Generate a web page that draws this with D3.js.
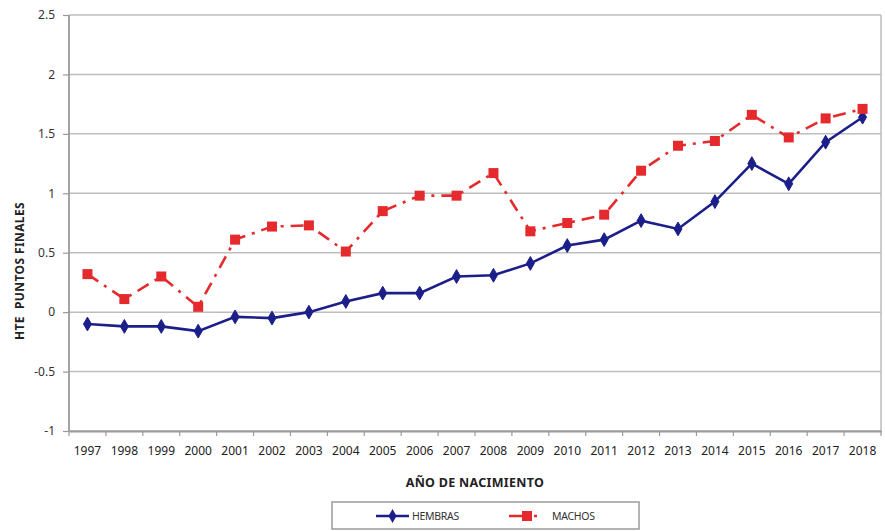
<!DOCTYPE html>
<html>
<head>
<meta charset="utf-8">
<script src="https://cdn.jsdelivr.net/npm/d3@7"></script>
<style>
  body { margin: 0; background: #fff; }
  svg text { font-family: "Noto Sans", "DejaVu Sans", sans-serif; fill: #222; }
</style>
</head>
<body>
<div id="chart"></div>
<script>
// Data
const years = ['1997', '1998', '1999', '2000', '2001', '2002', '2003', '2004', '2005', '2006', '2007',
  '2008', '2009', '2010', '2011', '2012', '2013', '2014', '2015', '2016', '2017', '2018'];
const hembras = [-0.10, -0.12, -0.12, -0.16, -0.04, -0.05, 0.00, 0.09, 0.16, 0.16, 0.30,
  0.31, 0.41, 0.56, 0.61, 0.77, 0.70, 0.93, 1.25, 1.08, 1.43, 1.64];
const machos = [0.32, 0.11, 0.30, 0.045, 0.61, 0.72, 0.73, 0.51, 0.85, 0.98, 0.98,
  1.17, 0.68, 0.75, 0.82, 1.19, 1.40, 1.44, 1.66, 1.47, 1.63, 1.71];
const yTicks = [-1, -0.5, 0, 0.5, 1, 1.5, 2, 2.5];

const totalWidth = 885, totalHeight = 531;
const margins = {top: 15, left: 69, right: 4, bottom: 100};
const width = totalWidth - margins.left - margins.right;
const height = totalHeight - margins.top - margins.bottom;

const svg = d3.select('#chart').append('svg')
  .attr('width', totalWidth)
  .attr('height', totalHeight);

const x = d3.scaleBand().domain(years).range([0, width]);
const y = d3.scaleLinear().domain([-1, 2.5]).range([height, 0]);
const cx = d => x(d) + x.bandwidth() / 2;

const plot = svg.append('g')
  .attr('transform', 'translate(' + [margins.left, margins.top] + ')');

// gridlines + frame
plot.append('g').selectAll('line')
  .data(yTicks)
  .enter().append('line')
  .attr('x1', 0).attr('x2', width)
  .attr('y1', d => y(d)).attr('y2', d => y(d))
  .style('stroke', '#bdbdbd').style('stroke-width', 1.5);
plot.append('line')
  .attr('x1', width).attr('x2', width).attr('y1', 0).attr('y2', height)
  .style('stroke', '#bdbdbd').style('stroke-width', 1.5);

// y axis
const yAxis = d3.axisLeft(y).tickValues(yTicks).tickSize(6).tickPadding(8).tickFormat(d => String(d));
const yg = plot.append('g').attr('class', 'axis axis--y').call(yAxis);
yg.select('.domain').remove();
yg.selectAll('.tick line').style('stroke', '#999').style('stroke-width', 1.2);
yg.selectAll('.tick text').style('font-size', '12px').style('fill', '#333');
plot.append('line')
  .attr('x1', 0).attr('x2', 0).attr('y1', 0).attr('y2', height)
  .style('stroke', '#9a9a9a').style('stroke-width', 1.8);

// x axis
const xAxis = d3.axisBottom(x).tickSize(0).tickPadding(15);
const xg = plot.append('g').attr('class', 'axis axis--x')
  .attr('transform', 'translate(' + [0, height] + ')')
  .call(xAxis);
xg.select('.domain').style('stroke', '#9a9a9a').style('stroke-width', 1.8);
xg.selectAll('.tick text').style('font-size', '12px').style('fill', '#222');
xg.selectAll('line.bound')
  .data(years.concat(['end']))
  .enter().append('line')
  .attr('class', 'bound')
  .attr('x1', (d, i) => i * x.step()).attr('x2', (d, i) => i * x.step())
  .attr('y1', 0).attr('y2', 5)
  .style('stroke', '#999').style('stroke-width', 1.2);

// axis titles
svg.append('text')
  .attr('x', margins.left + width / 2)
  .attr('y', 487)
  .attr('text-anchor', 'middle')
  .style('font-size', '12.5px').style('font-weight', 'bold')
  .style('letter-spacing', '0.3px')
  .text('AÑO DE NACIMIENTO');
svg.append('text')
  .attr('transform', 'translate(' + [24, 271] + ') rotate(-90)')
  .attr('text-anchor', 'middle')
  .style('font-size', '12px').style('font-weight', 'bold')
  .style('letter-spacing', '0.4px')
  .style('white-space', 'pre')
  .text('HTE  PUNTOS FINALES');

// series
const blue = '#1c1f8a', red = '#e52a2e';
const line = d3.line().x((d, i) => cx(years[i])).y(d => y(d));
const redDash = '13,7,3,7';

plot.append('path').datum(machos)
  .attr('d', line)
  .style('fill', 'none').style('stroke', red).style('stroke-width', 2.6)
  .style('stroke-dasharray', redDash);
plot.append('path').datum(hembras)
  .attr('d', line)
  .style('fill', 'none').style('stroke', blue).style('stroke-width', 2.6);

const diamond = d3.symbol().type(d3.symbolDiamond).size(55);
plot.append('g').selectAll('path')
  .data(hembras)
  .enter().append('path')
  .attr('d', diamond)
  .attr('transform', (d, i) => 'translate(' + [cx(years[i]), y(d)] + ')')
  .style('fill', blue).style('stroke', blue).style('stroke-width', 1).style('stroke-linejoin', 'round');
plot.append('g').selectAll('rect')
  .data(machos)
  .enter().append('rect')
  .attr('x', (d, i) => cx(years[i]) - 5).attr('y', d => y(d) - 5)
  .attr('width', 10).attr('height', 10)
  .style('fill', red);

// legend
const legend = svg.append('g').attr('transform', 'translate(' + [332, 502] + ')');
legend.append('rect')
  .attr('width', 307).attr('height', 27)
  .style('fill', '#fff').style('stroke', '#9a9a9a').style('stroke-width', 1.5);
legend.append('line').attr('x1', 44).attr('x2', 77).attr('y1', 14).attr('y2', 14)
  .style('stroke', blue).style('stroke-width', 2.6);
legend.append('path').attr('d', diamond).attr('transform', 'translate(60.5,14)').style('fill', blue);
legend.append('text').attr('x', 80).attr('y', 18).style('font-size', '10.5px').style('fill', '#333')
  .style('letter-spacing', '-0.3px').text('HEMBRAS');
legend.append('line').attr('x1', 177).attr('x2', 214).attr('y1', 14).attr('y2', 14)
  .style('stroke', red).style('stroke-width', 2.6).style('stroke-dasharray', '20,5,3,20');
legend.append('rect').attr('x', 190).attr('y', 9).attr('width', 10).attr('height', 10).style('fill', red);
legend.append('text').attr('x', 220).attr('y', 18).style('font-size', '10.5px').style('fill', '#333')
  .style('letter-spacing', '-0.3px').text('MACHOS');
</script>
</body>
</html>
